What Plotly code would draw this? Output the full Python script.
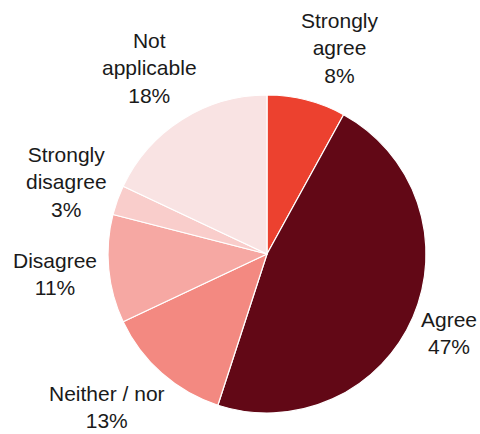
import math
import plotly.graph_objects as go

categories = ["Strongly<br>agree", "Agree", "Neither / nor", "Disagree", "Strongly<br>disagree", "Not<br>applicable"]
values = [8, 47, 13, 11, 3, 18]
colors = ["#EC412F", "#620816", "#F38981", "#F6A8A3", "#F9CDCB", "#F9E3E3"]

W, H = 480, 434
CX, CY, R = 267, 254, 159  # pie centre / radius in pixels (layout)

# label placement style: radial distance (px) and small nudges (px) per label
label_r = [218, 198, 221, 213, 213, 220]
label_nudge = [(19, 5), (0, 0), (-14, -13), (0, 0), (0, 0), (0, 0)]

fig = go.Figure(go.Pie(
    labels=categories,
    values=values,
    sort=False,
    direction="clockwise",
    rotation=0,
    marker=dict(colors=colors, line=dict(color="white", width=1.2)),
    textinfo="none",
    showlegend=False,
    hoverinfo="none",
    domain=dict(x=[(CX - R) / W, (CX + R) / W], y=[(H - CY - R) / H, (H - CY + R) / H]),
))

total = sum(values)
cum = 0
annotations = []
for i, (lab, v) in enumerate(zip(categories, values)):
    mid = (cum + v / 2) / total * 2 * math.pi
    cum += v
    px = CX + label_r[i] * math.sin(mid) + label_nudge[i][0]
    py = CY - label_r[i] * math.cos(mid) + label_nudge[i][1]
    pct = round(v / total * 100)
    annotations.append(dict(
        x=px / W, y=1 - py / H, xref="paper", yref="paper",
        text=f"{lab}<br>{pct}%", showarrow=False,
        xanchor="center", yanchor="middle", align="center",
        font=dict(family="Liberation Sans, Arial, sans-serif", size=21, color="#1a1a1a"),
    ))

fig.update_layout(
    width=W, height=H,
    margin=dict(l=0, r=0, t=0, b=0),
    paper_bgcolor="white",
    plot_bgcolor="white",
    annotations=annotations,
)
fig.write_html("out.html")
